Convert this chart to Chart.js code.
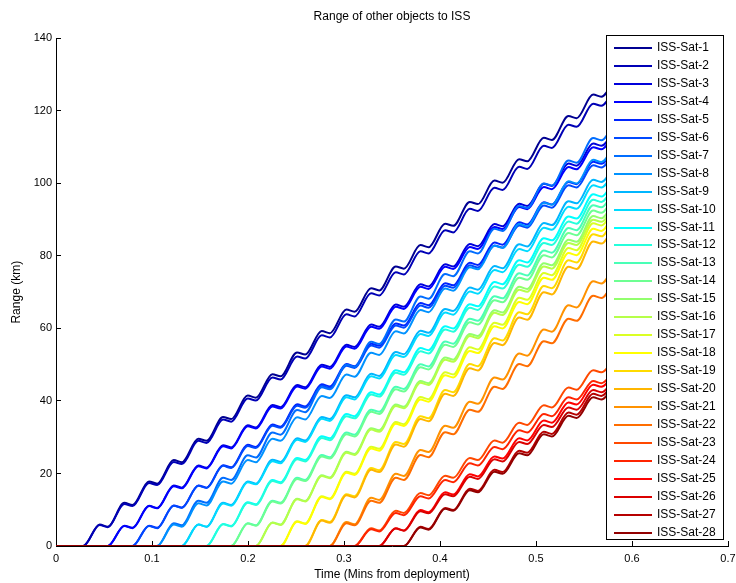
<!DOCTYPE html>
<html>
<head>
<meta charset="utf-8">
<title>Range of other objects to ISS</title>
<script src="https://cdn.jsdelivr.net/npm/chart.js@4.4.1/dist/chart.umd.min.js"></script>
<style>
  html, body { margin: 0; padding: 0; background: #fff; }
</style>
</head>
<body>
<canvas id="ChartRange" width="736" height="583"></canvas>
<script>
// time axis (mins from deployment): crest / dip points of the ripple
const times = [0, 0.0283, 0.0455, 0.054, 0.0712, 0.0797, 0.0969, 0.1054, 0.1226, 0.1311,
  0.1483, 0.1568, 0.174, 0.1825, 0.1997, 0.2082, 0.2254, 0.2339, 0.2511, 0.2596,
  0.2768, 0.2853, 0.3025, 0.311, 0.3282, 0.3367, 0.3539, 0.3624, 0.3796, 0.3881,
  0.4053, 0.4138, 0.431, 0.4395, 0.4567, 0.4652, 0.4824, 0.4909, 0.5081, 0.5166,
  0.5338, 0.5423, 0.5595, 0.568, 0.5852];

const satNames = ['ISS-Sat-1', 'ISS-Sat-2', 'ISS-Sat-3', 'ISS-Sat-4', 'ISS-Sat-5', 'ISS-Sat-6', 'ISS-Sat-7',
  'ISS-Sat-8', 'ISS-Sat-9', 'ISS-Sat-10', 'ISS-Sat-11', 'ISS-Sat-12', 'ISS-Sat-13', 'ISS-Sat-14',
  'ISS-Sat-15', 'ISS-Sat-16', 'ISS-Sat-17', 'ISS-Sat-18', 'ISS-Sat-19', 'ISS-Sat-20', 'ISS-Sat-21',
  'ISS-Sat-22', 'ISS-Sat-23', 'ISS-Sat-24', 'ISS-Sat-25', 'ISS-Sat-26', 'ISS-Sat-27', 'ISS-Sat-28'];

const satColors = ['rgb(0,0,146)', 'rgb(0,0,182)', 'rgb(0,0,219)', 'rgb(0,0,255)', 'rgb(0,36,255)',
  'rgb(0,73,255)', 'rgb(0,109,255)', 'rgb(0,146,255)', 'rgb(0,182,255)', 'rgb(0,219,255)',
  'rgb(0,255,255)', 'rgb(36,255,219)', 'rgb(73,255,182)', 'rgb(109,255,146)', 'rgb(146,255,109)',
  'rgb(182,255,73)', 'rgb(219,255,36)', 'rgb(255,255,0)', 'rgb(255,219,0)', 'rgb(255,182,0)',
  'rgb(255,146,0)', 'rgb(255,109,0)', 'rgb(255,73,0)', 'rgb(255,36,0)', 'rgb(255,0,0)',
  'rgb(219,0,0)', 'rgb(182,0,0)', 'rgb(146,0,0)'];

// range in km, one row per satellite, same points as times
const rangeKm = [
  [0,0, 5.9,5.3, 11.9,11.3, 17.8,17.2, 23.7,23.1, 29.6,29.0, 35.6,35.0, 41.5,40.9, 47.4,46.8, 53.4,52.8, 59.3,58.7, 65.2,64.6, 71.1,70.5, 77.1,76.5, 83.0,82.4, 88.9,88.3, 94.9,94.3, 100.8,100.2, 106.7,106.1, 112.6,112.0, 118.6,118.0, 124.5,123.9, 130.4],
  [0,0, 5.8,5.2, 11.6,11.0, 17.4,16.8, 23.2,22.6, 29.0,28.4, 34.9,34.3, 40.7,40.1, 46.5,45.9, 52.3,51.7, 58.1,57.5, 63.9,63.3, 69.7,69.1, 75.5,74.9, 81.3,80.7, 87.1,86.5, 93.0,92.4, 98.8,98.2, 104.6,104.0, 110.4,109.8, 116.2,115.6, 122.0,121.4, 127.8],
  [0,0,0,0, 5.6,5.0, 11.1,10.5, 16.7,16.1, 22.2,21.6, 27.8,27.2, 33.3,32.7, 38.9,38.3, 44.4,43.8, 50.0,49.4, 55.5,54.9, 61.1,60.5, 66.6,66.0, 72.2,71.6, 77.7,77.1, 83.3,82.7, 88.8,88.2, 94.4,93.8, 99.9,99.3, 105.5,104.9, 111.0,110.4, 116.6],
  [0,0,0,0, 5.5,4.9, 11.0,10.4, 16.5,15.9, 22.0,21.4, 27.5,26.9, 33.0,32.4, 38.5,37.9, 44.0,43.4, 49.5,48.9, 55.0,54.4, 60.5,59.9, 66.0,65.4, 71.5,70.9, 77.0,76.4, 82.5,81.9, 88.0,87.4, 93.5,92.9, 99.0,98.4, 104.5,103.9, 110.0,109.4, 115.5],
  [0,0,0,0,0,0, 5.6,5.0, 11.2,10.6, 16.7,16.1, 22.3,21.7, 27.9,27.3, 33.5,32.9, 39.1,38.5, 44.6,44.0, 50.2,49.6, 55.8,55.2, 61.4,60.8, 67.0,66.4, 72.5,71.9, 78.1,77.5, 83.7,83.1, 89.3,88.7, 94.8,94.2, 100.4,99.8, 106.0,105.4, 111.6],
  [0,0,0,0,0,0, 5.5,4.9, 11.1,10.5, 16.6,16.0, 22.1,21.5, 27.6,27.0, 33.2,32.6, 38.7,38.1, 44.2,43.6, 49.7,49.1, 55.3,54.7, 60.8,60.2, 66.3,65.7, 71.8,71.2, 77.4,76.8, 82.9,82.3, 88.4,87.8, 93.9,93.3, 99.5,98.9, 105.0,104.4, 110.5],
  [0,0,0,0,0,0,0,0, 6.3,5.7, 12.5,11.9, 18.8,18.2, 25.0,24.4, 31.3,30.7, 37.5,36.9, 43.8,43.2, 50.0,49.4, 56.3,55.7, 62.5,61.9, 68.8,68.2, 75.0,74.4, 81.3,80.7, 87.5,86.9, 93.8,93.2, 100.0,99.4, 106.3,105.7, 112.5,111.9, 118.8],
  [0,0,0,0,0,0,0,0, 5.9,5.3, 11.8,11.2, 17.8,17.2, 23.7,23.1, 29.6,29.0, 35.5,34.9, 41.4,40.8, 47.3,46.7, 53.3,52.7, 59.2,58.6, 65.1,64.5, 71.0,70.4, 76.9,76.3, 82.8,82.2, 88.8,88.2, 94.7,94.1, 100.6,100.0, 106.5,105.9, 112.4],
  [0,0,0,0,0,0,0,0,0,0, 5.9,5.3, 11.9,11.3, 17.8,17.2, 23.8,23.2, 29.7,29.1, 35.6,35.0, 41.6,41.0, 47.5,46.9, 53.5,52.9, 59.4,58.8, 65.4,64.8, 71.3,70.7, 77.2,76.6, 83.2,82.6, 89.1,88.5, 95.1,94.5, 101.0,100.4, 106.9],
  [0,0,0,0,0,0,0,0,0,0, 5.9,5.3, 11.7,11.1, 17.6,17.0, 23.4,22.8, 29.3,28.7, 35.1,34.5, 41.0,40.4, 46.8,46.2, 52.7,52.1, 58.5,57.9, 64.4,63.8, 70.2,69.6, 76.1,75.5, 81.9,81.3, 87.8,87.2, 93.6,93.0, 99.5,98.9, 105.4],
  [0,0,0,0,0,0,0,0,0,0,0,0, 6.1,5.5, 12.1,11.5, 18.2,17.6, 24.3,23.7, 30.3,29.7, 36.4,35.8, 42.4,41.8, 48.5,47.9, 54.6,54.0, 60.6,60.0, 66.7,66.1, 72.8,72.2, 78.8,78.2, 84.9,84.3, 90.9,90.3, 97.0,96.4, 103.1],
  [0,0,0,0,0,0,0,0,0,0,0,0, 6.0,5.4, 11.9,11.3, 17.9,17.3, 23.9,23.3, 29.8,29.2, 35.8,35.2, 41.8,41.2, 47.8,47.2, 53.7,53.1, 59.7,59.1, 65.7,65.1, 71.6,71.0, 77.6,77.0, 83.6,83.0, 89.5,88.9, 95.5,94.9, 101.5],
  [0,0,0,0,0,0,0,0,0,0,0,0,0,0, 6.3,5.7, 12.5,11.9, 18.8,18.2, 25.1,24.5, 31.3,30.7, 37.6,37.0, 43.9,43.3, 50.1,49.5, 56.4,55.8, 62.7,62.1, 68.9,68.3, 75.2,74.6, 81.5,80.9, 87.7,87.1, 94.0,93.4, 100.3],
  [0,0,0,0,0,0,0,0,0,0,0,0,0,0, 6.2,5.6, 12.3,11.7, 18.5,17.9, 24.7,24.1, 30.8,30.2, 37.0,36.4, 43.2,42.6, 49.3,48.7, 55.5,54.9, 61.7,61.1, 67.8,67.2, 74.0,73.4, 80.2,79.6, 86.3,85.7, 92.5,91.9, 98.7],
  [0,0,0,0,0,0,0,0,0,0,0,0,0,0,0,0, 6.5,5.9, 13.0,12.4, 19.5,18.9, 26.0,25.4, 32.5,31.9, 39.0,38.4, 45.5,44.9, 52.0,51.4, 58.5,57.9, 65.0,64.4, 71.5,70.9, 78.0,77.4, 84.5,83.9, 91.0,90.4, 97.5],
  [0,0,0,0,0,0,0,0,0,0,0,0,0,0,0,0, 6.4,5.8, 12.9,12.3, 19.3,18.7, 25.7,25.1, 32.1,31.5, 38.6,38.0, 45.0,44.4, 51.4,50.8, 57.9,57.3, 64.3,63.7, 70.7,70.1, 77.1,76.5, 83.6,83.0, 90.0,89.4, 96.4],
  [0,0,0,0,0,0,0,0,0,0,0,0,0,0,0,0,0,0, 6.8,6.2, 13.7,13.1, 20.5,19.9, 27.4,26.8, 34.2,33.6, 41.1,40.5, 47.9,47.3, 54.8,54.2, 61.6,61.0, 68.5,67.9, 75.3,74.7, 82.2,81.6, 89.0,88.4, 95.8],
  [0,0,0,0,0,0,0,0,0,0,0,0,0,0,0,0,0,0, 6.7,6.1, 13.5,12.9, 20.2,19.6, 26.9,26.3, 33.7,33.1, 40.4,39.8, 47.1,46.5, 53.8,53.2, 60.6,60.0, 67.3,66.7, 74.0,73.4, 80.8,80.2, 87.5,86.9, 94.2],
  [0,0,0,0,0,0,0,0,0,0,0,0,0,0,0,0,0,0,0,0, 7.2,6.6, 14.3,13.7, 21.5,20.9, 28.7,28.1, 35.8,35.2, 43.0,42.4, 50.2,49.6, 57.3,56.7, 64.5,63.9, 71.7,71.1, 78.8,78.2, 86.0,85.4, 93.2],
  [0,0,0,0,0,0,0,0,0,0,0,0,0,0,0,0,0,0,0,0, 7.0,6.4, 14.0,13.4, 21.0,20.4, 28.0,27.4, 35.0,34.4, 42.0,41.4, 49.0,48.4, 56.0,55.4, 63.0,62.4, 70.0,69.4, 77.0,76.4, 84.0,83.4, 91.0],
  [0,0,0,0,0,0,0,0,0,0,0,0,0,0,0,0,0,0,0,0,0,0, 6.6,6.0, 13.3,12.7, 19.9,19.3, 26.5,25.9, 33.2,32.6, 39.8,39.2, 46.5,45.9, 53.1,52.5, 59.7,59.1, 66.4,65.8, 73.0,72.4, 79.6],
  [0,0,0,0,0,0,0,0,0,0,0,0,0,0,0,0,0,0,0,0,0,0, 6.3,5.7, 12.5,11.9, 18.8,18.2, 25.1,24.5, 31.4,30.8, 37.6,37.0, 43.9,43.3, 50.2,49.6, 56.5,55.9, 62.7,62.1, 69.0,68.4, 75.3],
  [0,0,0,0,0,0,0,0,0,0,0,0,0,0,0,0,0,0,0,0,0,0,0,0, 4.9,4.3, 9.7,9.1, 14.6,14.0, 19.4,18.8, 24.3,23.7, 29.1,28.5, 34.0,33.4, 38.8,38.2, 43.7,43.1, 48.5,47.9, 53.4],
  [0,0,0,0,0,0,0,0,0,0,0,0,0,0,0,0,0,0,0,0,0,0,0,0, 4.6,4.0, 9.1,8.5, 13.7,13.1, 18.2,17.6, 22.8,22.2, 27.3,26.7, 31.9,31.3, 36.4,35.8, 41.0,40.4, 45.5,44.9, 50.1],
  [0,0,0,0,0,0,0,0,0,0,0,0,0,0,0,0,0,0,0,0,0,0,0,0,0,0, 4.9,4.3, 9.9,9.3, 14.8,14.2, 19.8,19.2, 24.7,24.1, 29.7,29.1, 34.6,34.0, 39.6,39.0, 44.5,43.9, 49.4],
  [0,0,0,0,0,0,0,0,0,0,0,0,0,0,0,0,0,0,0,0,0,0,0,0,0,0, 4.8,4.2, 9.6,9.0, 14.3,13.7, 19.1,18.5, 23.9,23.3, 28.7,28.1, 33.4,32.8, 38.2,37.6, 43.0,42.4, 47.8],
  [0,0,0,0,0,0,0,0,0,0,0,0,0,0,0,0,0,0,0,0,0,0,0,0,0,0,0,0, 5.3,4.7, 10.5,9.9, 15.8,15.2, 21.0,20.4, 26.3,25.7, 31.5,30.9, 36.8,36.2, 42.0,41.4, 47.3],
  [0,0,0,0,0,0,0,0,0,0,0,0,0,0,0,0,0,0,0,0,0,0,0,0,0,0,0,0, 5.1,4.5, 10.3,9.7, 15.4,14.8, 20.5,19.9, 25.6,25.0, 30.8,30.2, 35.9,35.3, 41.0,40.4, 46.1]
];

const canvas = document.getElementById('ChartRange');
const ctx = canvas.getContext('2d');

Chart.defaults.font.family = "'Liberation Sans', Arial, sans-serif";
Chart.defaults.font.size = 11;
Chart.defaults.color = '#000';

// matlab style legend box drawn over the plot area
const legendBox = {
    id: 'legendBox',
    afterDraw(chart) {
        const { ctx, chartArea } = chart;
        const left = chartArea.right - 122;
        const top = chartArea.top - 3.5;
        const width = 117;
        const height = 504;
        ctx.save();
        ctx.fillStyle = '#fff';
        ctx.fillRect(left, top, width, height);
        ctx.strokeStyle = '#000';
        ctx.lineWidth = 1;
        ctx.strokeRect(Math.round(left) + 0.5, Math.round(top) + 0.5, width, height);
        ctx.font = "12px 'Liberation Sans', Arial, sans-serif";
        ctx.textBaseline = 'middle';
        chart.data.datasets.forEach((ds, i) => {
            const y = Math.round(top + 13 + i * 17.96);
            ctx.strokeStyle = ds.borderColor;
            ctx.lineWidth = 2;
            ctx.beginPath();
            ctx.moveTo(left + 8, y);
            ctx.lineTo(left + 46, y);
            ctx.stroke();
            ctx.fillStyle = '#000';
            ctx.fillText(ds.label, left + 51, y);
        });
        ctx.restore();
    }
};

const datasets = rangeKm.map((serie, i) => ({
    label: satNames[i],
    data: serie.map((v, k) => ({ x: times[k], y: v })),
    borderColor: satColors[i],
    backgroundColor: satColors[i],
    borderWidth: 2,
    pointRadius: 0,
    cubicInterpolationMode: 'monotone',
    order: -i
}));

const chartRange = new Chart(ctx, {
    type: 'line',
    data: { datasets: datasets },
    options: {
        responsive: false,
        animation: false,
        layout: { padding: { left: 0, right: 8, top: 0, bottom: 0 } },
        plugins: {
            legend: { display: false },
            tooltip: { enabled: false },
            title: {
                display: true,
                text: 'Range of other objects to ISS',
                fullSize: false,
                color: '#000',
                font: { size: 12, weight: 'normal' },
                padding: { top: 9, bottom: 15 }
            }
        },
        scales: {
            x: {
                type: 'linear',
                min: 0,
                max: 0.7,
                ticks: { stepSize: 0.1, padding: 11, color: '#000' },
                grid: { drawOnChartArea: false, tickLength: -5, color: '#000' },
                border: { color: '#000' },
                title: { display: true, text: 'Time (Mins from deployment)', color: '#000', font: { size: 12 }, padding: { top: 0, bottom: 1 } },
                afterFit(scale) {
                    scale.height = 37;
                    scale.paddingLeft = 0;
                    scale.paddingRight = 8;
                }
            },
            y: {
                min: 0,
                max: 140,
                ticks: { stepSize: 20, padding: 9, color: '#000' },
                grid: { drawOnChartArea: false, tickLength: -5, color: '#000' },
                border: { color: '#000' },
                title: { display: true, text: 'Range (km)', color: '#000', font: { size: 12 }, padding: { top: 9, bottom: 0 } },
                afterFit(scale) { scale.width = 56; }
            }
        }
    },
    plugins: [legendBox]
});
</script>
</body>
</html>
